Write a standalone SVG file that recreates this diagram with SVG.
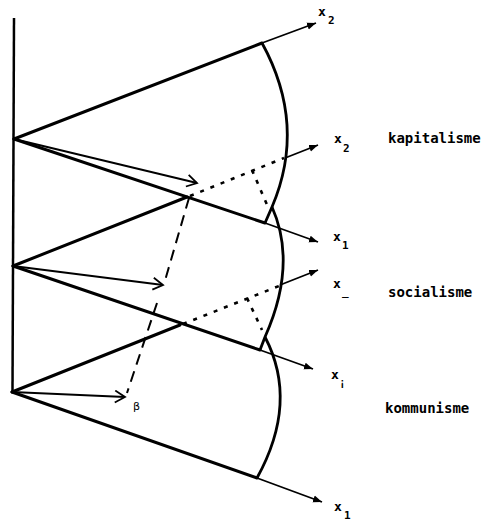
<svg xmlns="http://www.w3.org/2000/svg" width="489" height="523" viewBox="0 0 489 523">
<style>
.thick{stroke:#000;stroke-width:3;fill:none;stroke-linecap:round}
.thin{stroke:#000;stroke-width:1.8;fill:none}
.arc{stroke:#000;stroke-width:2.8;fill:none}
.dot{stroke:#000;stroke-width:2.6;fill:none;stroke-dasharray:4 7}
.dash{stroke:#000;stroke-width:2;fill:none;stroke-dasharray:11 7}
.lbl{font-family:"DejaVu Sans Mono","Liberation Mono",monospace;font-size:14px;font-weight:bold;fill:#000}
.x{font-family:"DejaVu Sans Mono","Liberation Mono",monospace;font-size:13px;font-weight:bold;fill:#000}
.sub{font-family:"DejaVu Sans Mono","Liberation Mono",monospace;font-size:11px;font-weight:bold;fill:#000}
.beta{font-family:"DejaVu Sans","Liberation Sans",sans-serif;font-size:11px;fill:#000}
</style>
<defs>
<marker id="tip" markerUnits="userSpaceOnUse" markerWidth="10" markerHeight="8" refX="9" refY="4" orient="auto">
<path d="M0,0.5 L9,4 L0,7.5 Z" fill="#000"/>
</marker>
<marker id="vee" markerUnits="userSpaceOnUse" markerWidth="14" markerHeight="14" refX="11" refY="7" orient="auto">
<path d="M1,1 L11,7 L1,13" fill="none" stroke="#000" stroke-width="1.8"/>
</marker>
</defs>
<g id="axis"><line x1="14" y1="18" x2="12.5" y2="392" stroke="#000" stroke-width="2.5"/></g>
<g id="connectors">
<line class="thick" x1="14" y1="139" x2="262" y2="43"/>
<line class="thin" x1="262" y1="43" x2="316" y2="23" marker-end="url(#tip)"/>
<line class="thick" x1="14" y1="139" x2="265" y2="223"/>
<line class="thin" x1="265" y1="223" x2="318" y2="242" marker-end="url(#tip)"/>
<path class="arc" d="M262,43 Q307,125 272,207 L265,223"/>
<line class="thick" x1="13" y1="266" x2="187" y2="197"/>
<line class="dot" x1="190" y1="196" x2="284" y2="158"/>
<line class="thin" x1="285" y1="158" x2="318" y2="145" marker-end="url(#tip)"/>
<line class="thick" x1="13" y1="266" x2="260" y2="350"/>
<line class="thin" x1="260" y1="350" x2="313" y2="369" marker-end="url(#tip)"/>
<path class="arc" d="M272,207 Q297.5,264 265,337 L260,350"/>
<line class="thick" x1="12" y1="392" x2="180" y2="325"/>
<line class="dot" x1="183" y1="324" x2="279" y2="286"/>
<line class="thin" x1="280" y1="285" x2="318" y2="270" marker-end="url(#tip)"/>
<line class="thick" x1="12" y1="392" x2="257" y2="478"/>
<line class="thin" x1="257" y1="478" x2="322" y2="502" marker-end="url(#tip)"/>
<path class="arc" d="M265,337 Q299,402 257,478"/>
<line class="dot" x1="252" y1="170" x2="268" y2="207"/>
<line class="dot" x1="247" y1="298" x2="262" y2="330"/>
<line class="dash" x1="189" y1="198" x2="164" y2="284"/>
<line class="dash" x1="157" y1="303" x2="127" y2="393"/>
<line class="thin" x1="14" y1="139" x2="197" y2="183" marker-end="url(#vee)"/>
<line class="thin" x1="13" y1="266" x2="163" y2="285" marker-end="url(#vee)"/>
<line class="thin" x1="12" y1="392" x2="125" y2="397" marker-end="url(#vee)"/>
</g>
<g id="labels">
<text class="x" x="318" y="16">x</text><text class="sub" x="328" y="24">2</text>
<text class="x" x="334" y="143">x</text><text class="sub" x="343" y="152">2</text>
<text class="x" x="333" y="241">x</text><text class="sub" x="342" y="249">1</text>
<text class="x" x="333" y="288">x</text><text class="sub" x="342" y="295">_</text>
<text class="x" x="331" y="379">x</text><text class="sub" x="339" y="386">¡</text>
<text class="x" x="334" y="511">x</text><text class="sub" x="344" y="519">1</text>
<text class="beta" x="133" y="410">β</text>
</g>
<g id="kapitalisme"><text class="lbl" x="388" y="143">kapitalisme</text></g>
<g id="socialisme"><text class="lbl" x="388" y="297">socialisme</text></g>
<g id="kommunisme"><text class="lbl" x="385" y="413">kommunisme</text></g>
</svg>
